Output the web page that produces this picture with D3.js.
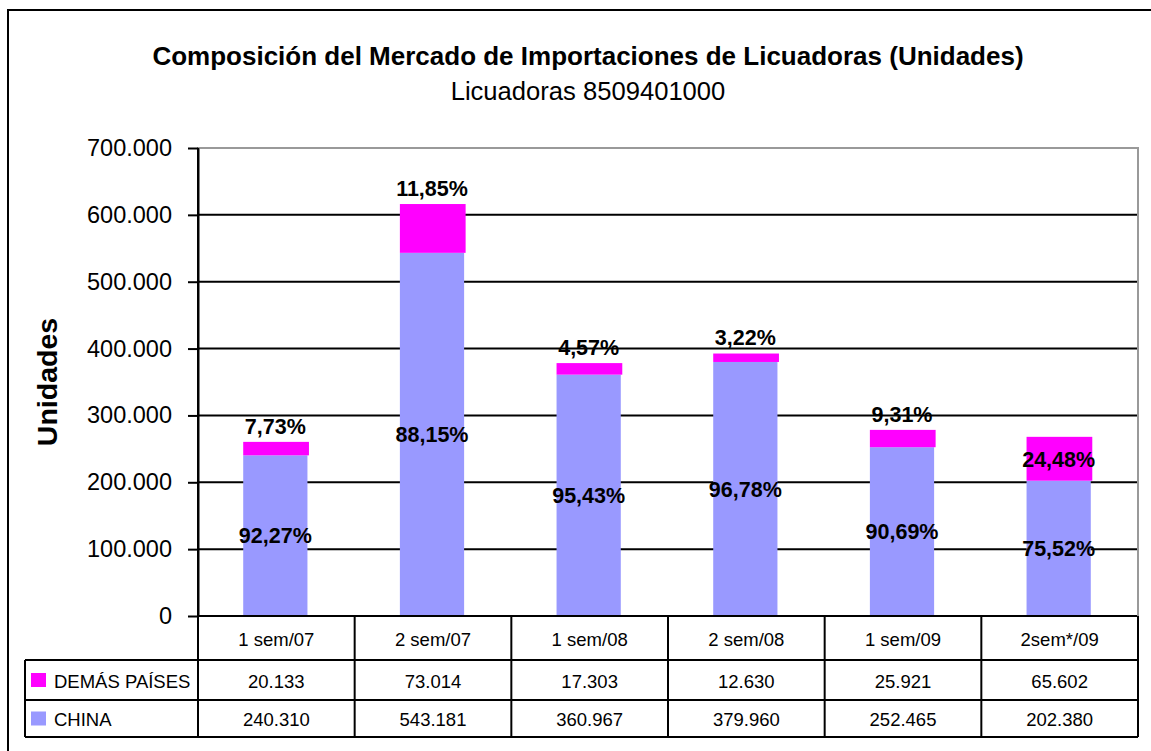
<!DOCTYPE html>
<html>
<head>
<meta charset="utf-8">
<script src="https://cdn.jsdelivr.net/npm/d3@7"></script>
<style>
  body { margin: 0; background: #fff; }
  text { font-family: Arial, "Liberation Sans", sans-serif; fill: #000; }
</style>
</head>
<body>
<svg width="1151" height="751"></svg>
<script>
// data
const categories = ['1 sem/07', '2 sem/07', '1 sem/08', '2 sem/08', '1 sem/09', '2sem*/09'];
const china = [240310, 543181, 360967, 379960, 252465, 202380];
const demas = [20133, 73014, 17303, 12630, 25921, 65602];
const seriesNames = ['DEMÁS PAÍSES', 'CHINA'];
const yTicks = [0, 100000, 200000, 300000, 400000, 500000, 600000, 700000];

const svg = d3.select('svg');
const width = +svg.attr('width');
const height = +svg.attr('height');

// spanish number format: 700.000 and 7,73%
const loc = d3.formatLocale({ decimal: ',', thousands: '.', grouping: [3], currency: ['$', ''] });
const fmtInt = loc.format(',d');
const fmtPct = loc.format('.2%');

const colors = { china: '#9999ff', demas: '#ff00ff' };

// plot area (absolute page coordinates)
const margin = { top: 148, right: 13, bottom: 135, left: 198 };
const x0 = margin.left, x1 = width - margin.right;
const y0 = height - margin.bottom, y1 = margin.top;

// outer chart frame (runs off the right and bottom edge)
svg.append('rect')
    .attr('x', 8).attr('y', 10)
    .attr('width', width + 20).attr('height', height + 20)
    .attr('fill', 'none').attr('stroke', '#000').attr('stroke-width', 2);

// titles
svg.append('text')
    .attr('x', 588).attr('y', 65)
    .attr('text-anchor', 'middle')
    .style('font-size', '26px').style('font-weight', 'bold')
    .text('Composición del Mercado de Importaciones de Licuadoras (Unidades)');
svg.append('text')
    .attr('x', 588).attr('y', 100)
    .attr('text-anchor', 'middle')
    .style('font-size', '25.6px')
    .text('Licuadoras 8509401000');

// y axis title
svg.append('text')
    .attr('transform', `translate(57,${(y0 + y1) / 2}) rotate(-90)`)
    .attr('text-anchor', 'middle')
    .style('font-size', '28.5px').style('font-weight', 'bold')
    .text('Unidades');

const xScale = d3.scaleBand()
    .domain(categories)
    .range([x0, x1]);

const yScale = d3.scaleLinear()
    .domain([0, 700000])
    .range([y0, y1]);

// gridlines
svg.append('g')
    .selectAll('line').data(yTicks.filter(d => d > 0 && d < 700000))
    .enter().append('line')
        .attr('x1', x0).attr('x2', x1)
        .attr('y1', d => yScale(d)).attr('y2', d => yScale(d))
        .attr('stroke', '#000').attr('stroke-width', 2);

// plot area border
svg.append('rect')
    .attr('x', x0).attr('y', y1)
    .attr('width', x1 - x0).attr('height', y0 - y1)
    .attr('fill', 'none').attr('stroke', '#999').attr('stroke-width', 2);

// stacked bars
const rows = categories.map((c, i) => ({ cat: c, china: china[i], demas: demas[i] }));
const stacked = d3.stack().keys(['china', 'demas'])(rows);

const barW = xScale.bandwidth() * 0.41;
const barX = d => xScale(d.data.cat) + (xScale.bandwidth() - barW) / 2 - 1;

stacked.forEach(layer => {
    svg.append('g')
        .selectAll('rect').data(layer)
        .enter().append('rect')
            .attr('x', barX)
            .attr('y', d => yScale(d[1]))
            .attr('width', barW + (layer.key === 'demas' ? 1.5 : 0))
            .attr('height', d => yScale(d[0]) - yScale(d[1]))
            .attr('fill', colors[layer.key]);
});

// y axis
const yAxis = d3.axisLeft(yScale)
    .tickValues(yTicks)
    .tickFormat(fmtInt)
    .tickSizeInner(10)
    .tickSizeOuter(0)
    .tickPadding(16);

const yAxisG = svg.append('g')
    .attr('transform', `translate(${x0},0)`)
    .call(yAxis);
yAxisG.select('.domain').attr('stroke', '#000').attr('stroke-width', 2);
yAxisG.selectAll('.tick line').attr('stroke', '#000').attr('stroke-width', 2);
yAxisG.selectAll('.tick text')
    .style('font-size', '23.5px')
    .style('font-family', 'Arial, "Liberation Sans", sans-serif')
    .attr('fill', '#000');

// percentage labels
const pctText = (x, y, t) => svg.append('text')
    .attr('x', x).attr('y', y)
    .attr('dy', '0.36em')
    .attr('text-anchor', 'middle')
    .style('font-size', '21.5px').style('font-weight', 'bold')
    .text(t);

rows.forEach(r => {
    const total = r.china + r.demas;
    const cx = xScale(r.cat) + xScale.bandwidth() / 2 - 1;
    // china share: centred in its segment
    pctText(cx, (yScale(0) + yScale(r.china)) / 2, fmtPct(r.china / total));
    // others share: inside when it is a big share, else just above the bar
    const share = r.demas / total;
    const ly = share > 0.2 ? (yScale(r.china) + yScale(total)) / 2 : yScale(total) - 16;
    pctText(cx, ly, fmtPct(share));
});

// data table under the x axis
const rowH = [44, 40, 37];
const rowTop = [y0, y0 + rowH[0], y0 + rowH[0] + rowH[1]];
const tableBottom = rowTop[2] + rowH[2];
const legendLeft = 25;

const lineStyle = sel => sel.attr('stroke', '#000').attr('stroke-width', 2);

// x axis line / top of table
svg.append('line')
    .attr('x1', x0).attr('x2', x1)
    .attr('y1', y0).attr('y2', y0)
    .call(lineStyle);
// horizontal rules of the series rows
[rowTop[1], rowTop[2], tableBottom].forEach(yy => {
    svg.append('line')
        .attr('x1', legendLeft).attr('x2', x1)
        .attr('y1', yy).attr('y2', yy)
        .call(lineStyle);
});
// column separators
d3.range(categories.length + 1).forEach(i => {
    const xx = x0 + i * xScale.bandwidth();
    svg.append('line')
        .attr('x1', xx).attr('x2', xx)
        .attr('y1', i === 0 ? y1 : y0).attr('y2', tableBottom)
        .call(lineStyle);
});
svg.append('line')
    .attr('x1', x1).attr('x2', x1)
    .attr('y1', y1).attr('y2', y0)
    .attr('stroke', '#999').attr('stroke-width', 2);
svg.append('line')
    .attr('x1', legendLeft).attr('x2', legendLeft)
    .attr('y1', rowTop[1]).attr('y2', tableBottom)
    .call(lineStyle);

const cellText = (x, y, t, anchor) => svg.append('text')
    .attr('x', x).attr('y', y)
    .attr('dy', '0.36em')
    .attr('text-anchor', anchor || 'middle')
    .style('font-size', '18.5px')
    .text(t);

// category row
categories.forEach(c => {
    cellText(xScale(c) + xScale.bandwidth() / 2, rowTop[0] + rowH[0] / 2 + 1, c);
});

// series rows
const seriesVals = [demas, china];
const seriesCols = [colors.demas, colors.china];
seriesVals.forEach((vals, s) => {
    const cy = rowTop[s + 1] + rowH[s + 1] / 2;
    vals.forEach((v, i) => {
        cellText(xScale(categories[i]) + xScale.bandwidth() / 2, cy + 1, fmtInt(v));
    });
    svg.append('rect')
        .attr('x', legendLeft + 6).attr('y', cy - 7)
        .attr('width', 15).attr('height', 14)
        .attr('fill', seriesCols[s]);
    cellText(legendLeft + 29, cy + 1, seriesNames[s], 'start');
});
</script>
</body>
</html>
